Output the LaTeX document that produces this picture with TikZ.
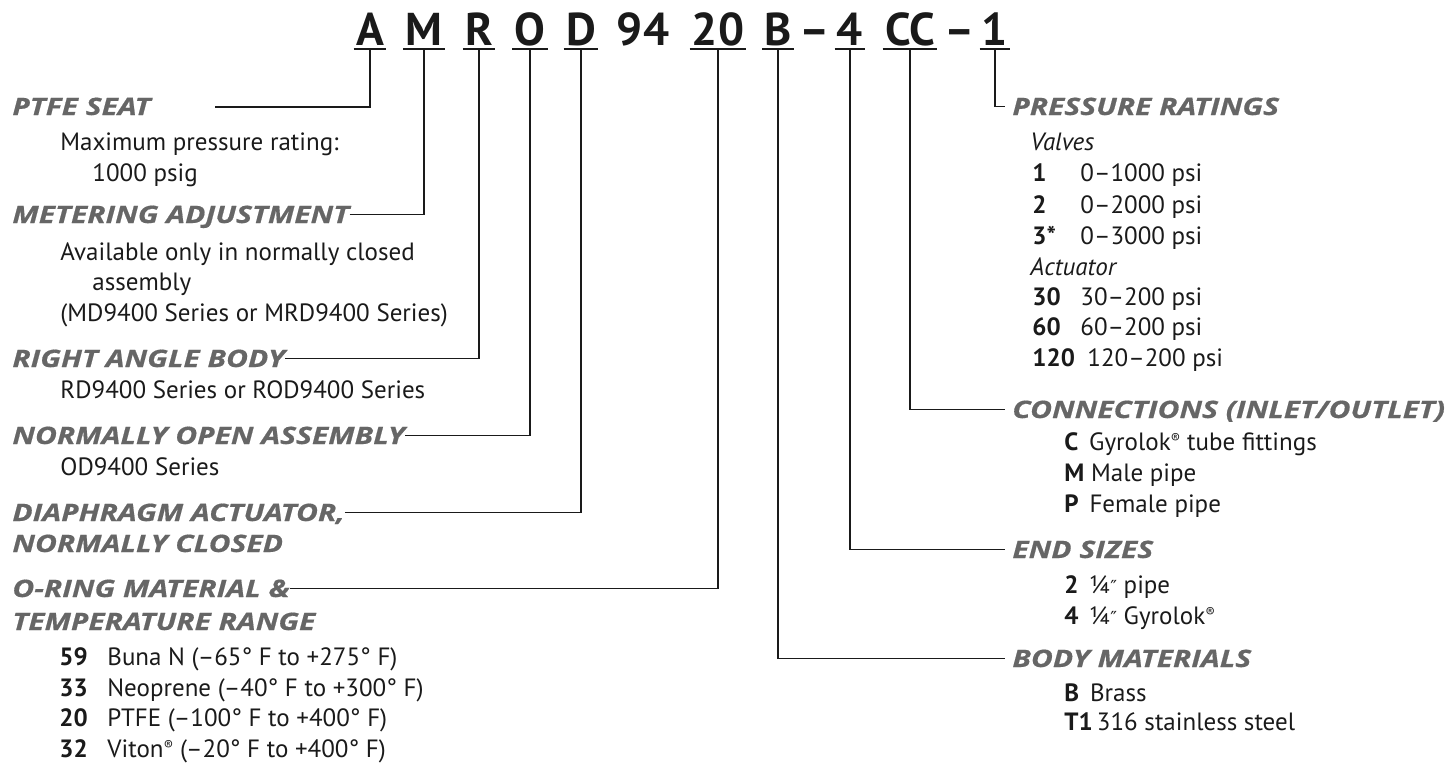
\documentclass[tikz,border=0pt]{standalone}
\usepackage{fontspec}
\setmainfont{PT Sans}
\newfontfamily\headfont{Open Sans}[FakeStretch=1.25, BoldItalicFeatures={FakeBold=0.6}]
\newfontfamily\symfont{DejaVu Sans}
\definecolor{headgray}{HTML}{666666}
\definecolor{ink}{HTML}{1A1A1A}
\newcommand{\regm}{\raisebox{0.55ex}{\fontsize{7}{7}\selectfont ®}}
\newcommand{\dprime}{{\symfont\fontsize{9}{9}\selectfont ″}}
\tikzset{
  codetxt/.style={font=\fontsize{23}{23}\selectfont\bfseries, text=ink, anchor=base, inner xsep=1pt, inner ysep=0pt, text height=16pt, text depth=2pt},
  uline/.style={line width=1pt, draw=ink},
  conn/.style={line width=0.9pt, draw=ink},
  headtxt/.style={font=\headfont\fontsize{12}{12}\selectfont\bfseries\itshape, text=headgray, anchor=base west, inner sep=0pt, text height=8.5pt, text depth=0pt},
  bodytxt/.style={font=\fontsize{12.5}{12.5}\selectfont, text=ink, anchor=base west, inner sep=0pt},
  lbltxt/.style={font=\fontsize{12.5}{12.5}\selectfont\bfseries, text=ink, anchor=base west, inner sep=0pt},
  ittxt/.style={font=\fontsize{12.5}{12.5}\selectfont\itshape, text=ink, anchor=base west, inner sep=0pt}
}
\begin{document}
\begin{tikzpicture}[x=0.5pt,y=-0.5pt]
\useasboundingbox (0,0) rectangle (1453,762);
% code line
\node[codetxt] (A) at (370,45) {A};
\node[codetxt] (M) at (424,45) {M};
\node[codetxt] (R) at (479,45) {R};
\node[codetxt] (O) at (530,45) {O};
\node[codetxt] (D) at (581,45) {D};
\node[codetxt] (n94) at (643,45) {94};
\node[codetxt] (n20) at (718,45) {20};
\node[codetxt] (B) at (778,45) {B};
\node[codetxt] (dashA) at (815,45) {–};
\node[codetxt] (n4) at (850,45) {4};
\node[codetxt] (CC) at (910,45) {CC};
\node[codetxt] (dashB) at (960,45) {–};
\node[codetxt] (n1) at (995,45) {1};
\foreach \n in {A,M,R,O,D,n20,B,n4,CC,n1}
  \draw[uline] (\n.south west) -- (\n.south east);

% left headings
\node[headtxt] (hPTFE) at (12,115) {PTFE SEAT};
\node[bodytxt] (tPTFE1) at (60,150) {Maximum pressure rating:};
\node[bodytxt] (tPTFE2) at (92,181) {1000 psig};

\node[headtxt] (hMeter) at (12,223) {METERING ADJUSTMENT};
\node[bodytxt] (tMeter1) at (60,260) {Available only in normally closed};
\node[bodytxt] (tMeter2) at (92,290) {assembly};
\node[bodytxt] (tMeter3) at (60,321) {(MD9400 Series or MRD9400 Series)};

\node[headtxt] (hRight) at (12,367) {RIGHT ANGLE BODY};
\node[bodytxt] (tRight) at (60,398) {RD9400 Series or ROD9400 Series};

\node[headtxt] (hOpen) at (12,444) {NORMALLY OPEN ASSEMBLY};
\node[bodytxt] (tOpen) at (60,475) {OD9400 Series};

\node[headtxt] (hDiaph) at (12,521) {DIAPHRAGM ACTUATOR,};
\node[headtxt] (hDiaph2) at (12,552) {NORMALLY CLOSED};

\node[headtxt] (hOring) at (12,597) {O-RING MATERIAL \&};
\node[headtxt] (hOring2) at (12,630) {TEMPERATURE RANGE};
\node[lbltxt] (l59) at (59,665) {59};
\node[bodytxt] (t59) at (107,665) {Buna N (–65° F to +275° F)};
\node[lbltxt] (l33) at (59,696) {33};
\node[bodytxt] (t33) at (107,696) {Neoprene (–40° F to +300° F)};
\node[lbltxt] (l20) at (59,726) {20};
\node[bodytxt] (t20) at (107,726) {PTFE (–100° F to +400° F)};
\node[lbltxt] (l32) at (59,757) {32};
\node[bodytxt] (t32) at (107,757) {Viton\regm{} (–20° F to +400° F)};

% right headings
\node[headtxt] (hPress) at (1012,115) {PRESSURE RATINGS};
\node[ittxt] (tValves) at (1030,150) {Valves};
\node[lbltxt] (p1) at (1032,181) {1};
\node[bodytxt] (q1) at (1080,181) {0–1000 psi};
\node[lbltxt] (p2) at (1032,213) {2};
\node[bodytxt] (q2) at (1080,213) {0–2000 psi};
\node[lbltxt] (p3) at (1032,244) {3*};
\node[bodytxt] (q3) at (1080,244) {0–3000 psi};
\node[ittxt] (tAct) at (1030,275) {Actuator};
\node[lbltxt] (p30) at (1032,305) {30};
\node[bodytxt] (q30) at (1080,305) {30–200 psi};
\node[lbltxt] (p60) at (1032,335) {60};
\node[bodytxt] (q60) at (1080,335) {60–200 psi};
\node[lbltxt] (p120) at (1032,366) {120};
\node[bodytxt] (q120) at (1087,366) {120–200 psi};

\node[headtxt] (hConn) at (1012,418) {CONNECTIONS (INLET/OUTLET)};
\node[bodytxt] (cC) at (1064,450) {\textbf{C}\, Gyrolok\regm{} tube fittings};
\node[bodytxt] (cM) at (1064,481) {\textbf{M} Male pipe};
\node[bodytxt] (cP) at (1064,512) {\textbf{P}\, Female pipe};

\node[headtxt] (hEnd) at (1012,558) {END SIZES};
\node[bodytxt] (e2) at (1064,593) {\textbf{2}\, ¼\dprime\ pipe};
\node[bodytxt] (e4) at (1064,624) {\textbf{4}\, ¼\dprime\ Gyrolok\regm};

\node[headtxt] (hBody) at (1012,667) {BODY MATERIALS};
\node[bodytxt] (bB) at (1064,701) {\textbf{B}\, Brass};
\node[bodytxt] (bT) at (1064,730) {\textbf{T1}\,316 stainless steel};

% connectors left
\coordinate (ptA) at (215,107);
\draw[conn] (ptA) -| (A.south);
\draw[conn] (hMeter.east) -| (M.south);
\draw[conn] (hRight.east) -| (R.south);
\draw[conn] (hOpen.east) -| (O.south);
\draw[conn] (hDiaph.east) -| (D.south);
\draw[conn] (hOring.east) -| (n20.south);
% connectors right
\draw[conn] (n1.south) |- ([xshift=-3.5pt]hPress.west);
\draw[conn] (CC.south) |- ([xshift=-3.5pt]hConn.west);
\draw[conn] (n4.south) |- ([xshift=-3.5pt]hEnd.west);
\draw[conn] (B.south) |- ([xshift=-3.5pt]hBody.west);
\end{tikzpicture}
\end{document}
